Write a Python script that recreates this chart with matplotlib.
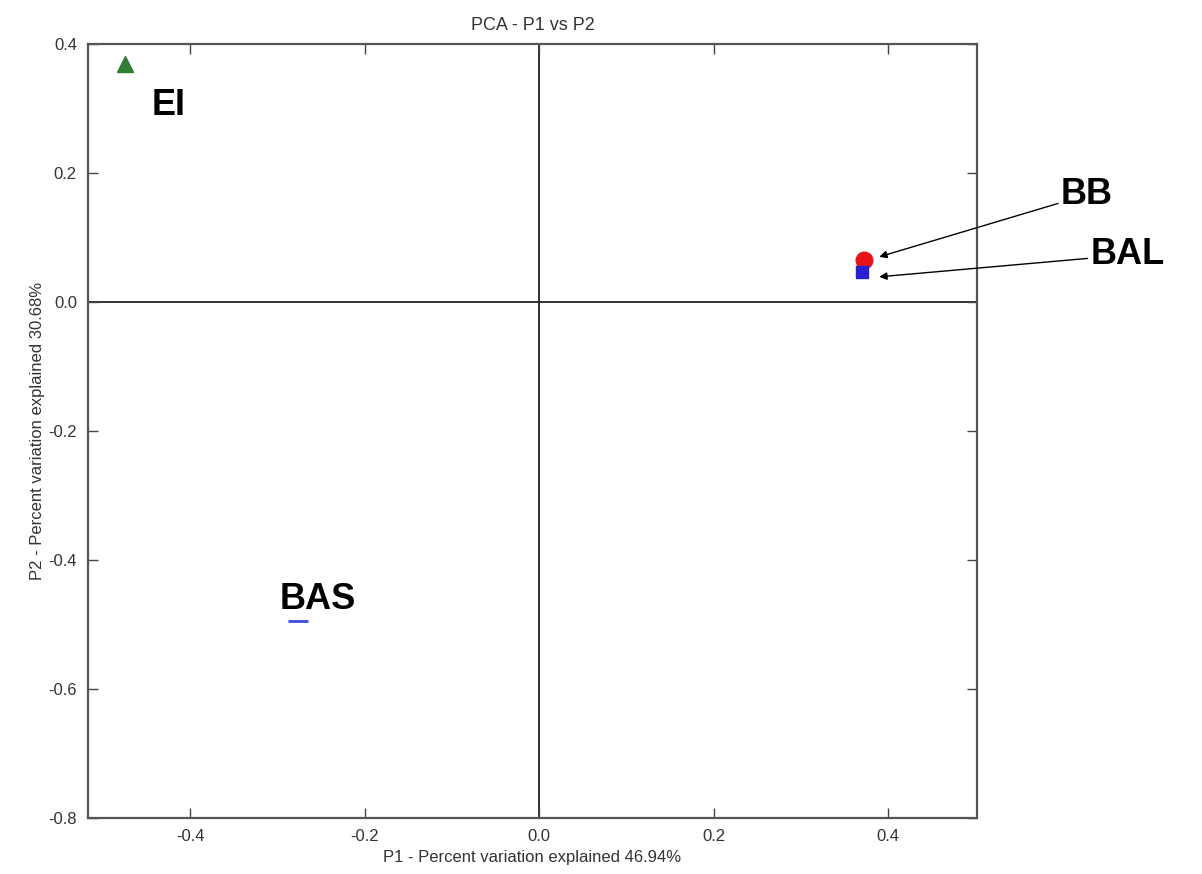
import matplotlib.pyplot as plt

# sample scores on the first two principal components
samples = ["EI", "BB", "BAL", "BAS"]
p1 = [-0.475, 0.372, 0.370, -0.276]
p2 = [0.369, 0.065, 0.047, -0.495]
markers = ["^", "o", "s", "_"]
colors = ["#2e7d32", "#e8141a", "#2a1fd0", "#3a4fe0"]

xticks = [-0.4, -0.2, 0.0, 0.2, 0.4]
yticks = [0.4, 0.2, 0.0, -0.2, -0.4, -0.6, -0.8]

plt.rcParams["font.family"] = ["Liberation Sans", "DejaVu Sans"]

fig = plt.figure(figsize=(12.02, 8.74), dpi=100)
ax = fig.add_axes([0.0732, 0.0641, 0.7396, 0.8856])

ax.axhline(0, color="#222222", lw=1.3, zorder=1)
ax.axvline(0, color="#222222", lw=1.3, zorder=1)

sizes = [11, 12, 9, 14]
for name, x, y, m, c, s in zip(samples, p1, p2, markers, colors, sizes):
    ax.plot(x, y, marker=m, color=c, markersize=s, mew=2 if m == "_" else 1,
            linestyle="none", zorder=3)

ax.set_xlim(-0.517, 0.502)
ax.set_ylim(-0.8, 0.4)
ax.set_xticks(xticks)
ax.set_yticks(yticks)
ax.set_xticklabels([f"{t:.1f}" for t in xticks])
ax.set_yticklabels([f"{t:.1f}" for t in yticks])
ax.tick_params(direction="in", length=7, width=1, top=True, right=True,
               labelsize=12, labelcolor="#333333", color="#444444", pad=8)
for sp in ax.spines.values():
    sp.set_color("#555555")
    sp.set_linewidth(1.6)

ax.set_title("PCA - P1 vs P2", fontsize=13, color="#333333", pad=10)
ax.set_xlabel("P1 - Percent variation explained 46.94%", fontsize=12,
              color="#333333", labelpad=4)
ax.set_ylabel("P2 - Percent variation explained 30.68%", fontsize=12,
              color="#333333", labelpad=2)

lab = dict(fontsize=26, fontweight="bold", color="black", va="center",
           ha="left", clip_on=False)
ax.text(-0.444, 0.304, "EI", **lab)
ax.text(-0.297, -0.461, "BAS", **lab)
arrow = dict(arrowstyle="-|>", color="black", lw=1, mutation_scale=11,
             shrinkA=0, shrinkB=0)
ax.annotate("BB", xy=(0.39, 0.070), xytext=(0.598, 0.166),
            arrowprops=arrow, annotation_clip=False, **lab)
ax.annotate("BAL", xy=(0.39, 0.039), xytext=(0.632, 0.073),
            arrowprops=arrow, annotation_clip=False, **lab)

fig.savefig("out.png", dpi=100)
